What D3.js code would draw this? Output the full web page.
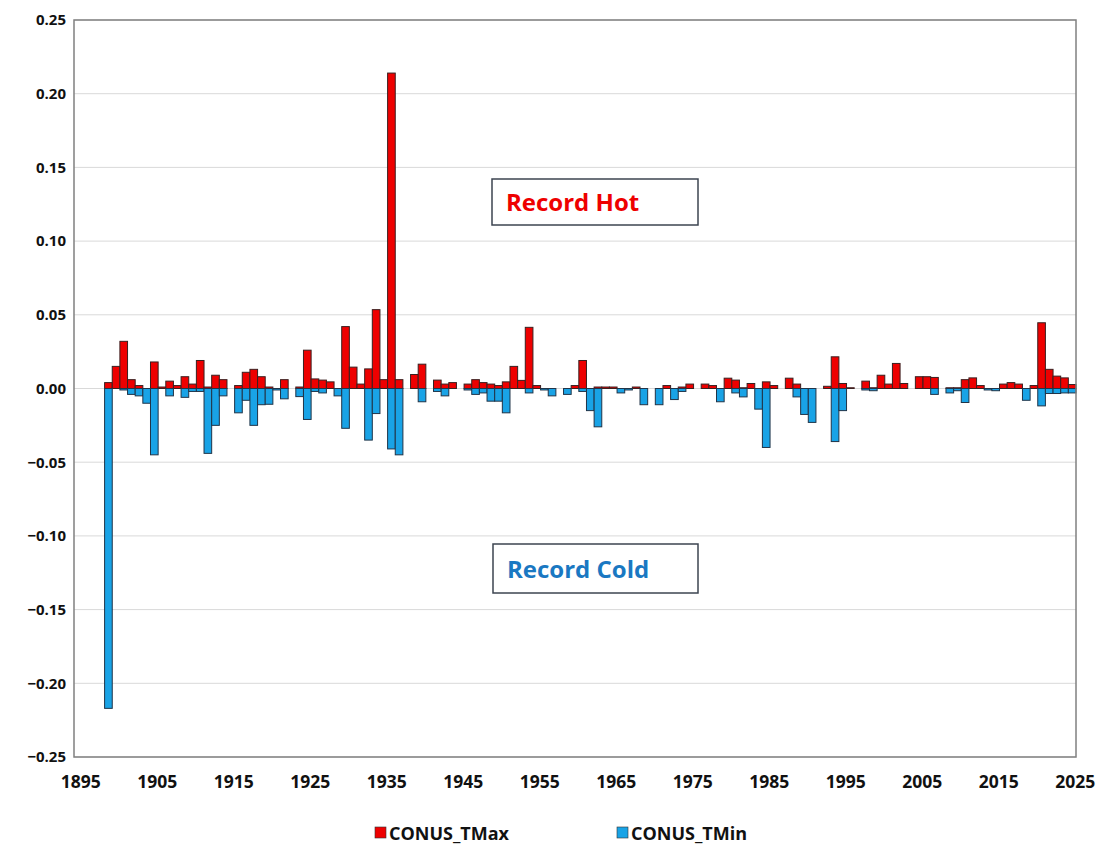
<!DOCTYPE html>
<html>
<head>
<meta charset="utf-8">
<script src="https://cdn.jsdelivr.net/npm/d3@7"></script>
<style>
  body { margin: 0; background: #fff; }
  text { font-family: "Open Sans", "Noto Sans", sans-serif; font-weight: bold; }
</style>
</head>
<body>
<svg width="1101" height="849"></svg>
<script>
// years shown on the category axis
const years = d3.range(1895, 2026);

// fraction of record highs (TMax) per year, 1895..2025
const tmax = [
  0, 0, 0, 0, 0.004, 0.015, 0.032, 0.006, 0.002, 0.000,
  0.018, 0.001, 0.005, 0.002, 0.008, 0.003, 0.019, 0.001, 0.009, 0.006,
  0.000, 0.002, 0.011, 0.013, 0.008, 0.001, 0.000, 0.006, 0.000, 0.001,
  0.026, 0.0065, 0.0057, 0.0045, 0.000, 0.042, 0.0145, 0.003, 0.0133, 0.0535,
  0.006, 0.214, 0.006, 0.000, 0.0095, 0.0165, 0, 0.0057, 0.003, 0.004,
  0, 0.003, 0.006, 0.004, 0.003, 0.002, 0.0045, 0.015, 0.0055, 0.0415,
  0.002, 0, 0, 0, 0, 0.002, 0.019, 0, 0.001, 0.001,
  0.001, 0, 0, 0.001, 0, 0, 0, 0.002, 0, 0.001,
  0.003, 0, 0.003, 0.002, 0, 0.007, 0.0057, 0.0005, 0.0034, 0,
  0.0045, 0.002, 0, 0.007, 0.003, 0, 0, 0, 0.0015, 0.0215,
  0.0034, 0.0005, 0, 0.005, 0.0005, 0.009, 0.003, 0.017, 0.0034, 0,
  0.008, 0.008, 0.0075, 0, 0.0005, 0.0005, 0.006, 0.0072, 0.002, 0,
  0, 0.003, 0.004, 0.003, 0, 0.002, 0.0446, 0.013, 0.0084, 0.0072,
  0.0027
];

// fraction of record lows (TMin) per year, plotted negative
const tmin = [
  0, 0, 0, 0, -0.217, 0, -0.001, -0.004, -0.005, -0.010,
  -0.045, 0, -0.005, 0, -0.006, -0.002, -0.002, -0.044, -0.025, -0.005,
  0, -0.0165, -0.008, -0.025, -0.011, -0.0107, -0.001, -0.007, 0, -0.0055,
  -0.021, -0.002, -0.003, 0, -0.005, -0.027, 0, 0, -0.035, -0.017,
  0, -0.041, -0.045, 0, 0, -0.009, 0, -0.002, -0.005, 0,
  0, -0.001, -0.004, -0.003, -0.0086, -0.0086, -0.0165, 0, 0, -0.003,
  0, -0.001, -0.005, 0, -0.004, 0, -0.002, -0.015, -0.026, 0,
  0, -0.003, -0.001, 0, -0.011, 0, -0.011, 0, -0.0075, -0.002,
  0, 0, 0, 0, -0.009, 0, -0.003, -0.0057, 0, -0.014,
  -0.040, 0, 0, 0, -0.0057, -0.0176, -0.023, 0, 0, -0.036,
  -0.015, 0, 0, -0.001, -0.0015, 0, 0, 0, 0, 0,
  0, 0, -0.004, 0, -0.003, -0.0015, -0.0095, 0, 0, -0.001,
  -0.0015, 0, 0, 0, -0.008, 0, -0.0118, -0.0034, -0.0034, -0.003,
  -0.003
];

const xTicks = [1895, 1905, 1915, 1925, 1935, 1945, 1955, 1965, 1975, 1985, 1995, 2005, 2015, 2025];
const yTicks = [0.25, 0.20, 0.15, 0.10, 0.05, 0, -0.05, -0.10, -0.15, -0.20, -0.25];

const seriesNames = ["CONUS_TMax", "CONUS_TMin"];
const red = "#ee0000";
const blue = "#19a3e6";

const svg = d3.select("svg");

const plot = { left: 74, right: 1076, top: 20, bottom: 757 };

const x = d3.scaleBand()
    .domain(years)
    .range([plot.left, plot.right])
    .padding(0);

const y = d3.scaleLinear()
    .domain([-0.25, 0.25])
    .range([plot.bottom, plot.top]);

// gridlines
svg.append("g")
    .selectAll("line")
    .data(yTicks)
    .enter()
    .append("line")
    .attr("x1", plot.left)
    .attr("x2", plot.right)
    .attr("y1", d => y(d))
    .attr("y2", d => y(d))
    .attr("stroke", "#d9d9d9")
    .attr("stroke-width", 1);

const data = years.map((yr, i) => ({ year: yr, hi: tmax[i], lo: tmin[i] }));

// red bars (record hot)
svg.append("g")
    .selectAll("rect")
    .data(data.filter(d => d.hi > 0))
    .enter()
    .append("rect")
    .attr("x", d => x(d.year))
    .attr("width", x.bandwidth())
    .attr("y", d => y(d.hi))
    .attr("height", d => y(0) - y(d.hi))
    .attr("fill", red)
    .attr("stroke", "#3a2020")
    .attr("stroke-width", 1);

// blue bars (record cold)
svg.append("g")
    .selectAll("rect")
    .data(data.filter(d => d.lo < 0))
    .enter()
    .append("rect")
    .attr("x", d => x(d.year))
    .attr("width", x.bandwidth())
    .attr("y", y(0))
    .attr("height", d => y(d.lo) - y(0))
    .attr("fill", blue)
    .attr("stroke", "#203448")
    .attr("stroke-width", 1);

// plot frame
svg.append("rect")
    .attr("x", plot.left)
    .attr("y", plot.top)
    .attr("width", plot.right - plot.left)
    .attr("height", plot.bottom - plot.top)
    .attr("fill", "none")
    .attr("stroke", "#808080")
    .attr("stroke-width", 1.5);

// y axis labels
const yAxis = d3.axisLeft(y)
    .tickValues(yTicks)
    .tickSize(0)
    .tickPadding(7)
    .tickFormat(d3.format(".2f"));

svg.append("g")
    .attr("transform", `translate(${plot.left - 1},0)`)
    .call(yAxis)
    .call(g => g.select(".domain").remove())
    .selectAll("text")
    .style("font-size", "15px")
    .attr("fill", "#111");

// x axis labels
const xAxis = d3.axisBottom(x)
    .tickValues(xTicks)
    .tickSize(0)
    .tickPadding(19);

svg.append("g")
    .attr("transform", `translate(3,${plot.bottom})`)
    .call(xAxis)
    .call(g => g.select(".domain").remove())
    .selectAll("text")
    .style("font-size", "17.5px")
    .attr("fill", "#111");

// annotation boxes
const notes = [
  { label: "Record Hot", color: red, x: 492, y: 179, w: 206, h: 46 },
  { label: "Record Cold", color: "#1a78c2", x: 493, y: 544, w: 205, h: 49 }
];

notes.forEach(n => {
    svg.append("rect")
        .attr("x", n.x)
        .attr("y", n.y)
        .attr("width", n.w)
        .attr("height", n.h)
        .attr("fill", "#fff")
        .attr("stroke", "#3c4450")
        .attr("stroke-width", 1.5);

    svg.append("text")
        .attr("x", n.x + 14)
        .attr("y", n.y + n.h / 2 + 9)
        .style("font-size", "24px")
        .attr("fill", n.color)
        .text(n.label);
});

// legend
const legend = svg.append("g");
const legendX = [375, 617];

seriesNames.forEach((name, i) => {
    legend.append("rect")
        .attr("x", legendX[i])
        .attr("y", 827)
        .attr("width", 11)
        .attr("height", 11)
        .attr("fill", i === 0 ? red : blue)
        .attr("stroke", "#333")
        .attr("stroke-width", 0.6);

    legend.append("text")
        .attr("x", legendX[i] + 14)
        .attr("y", 840)
        .style("font-size", "18px")
        .attr("fill", "#111")
        .text(name);
});
</script>
</body>
</html>
